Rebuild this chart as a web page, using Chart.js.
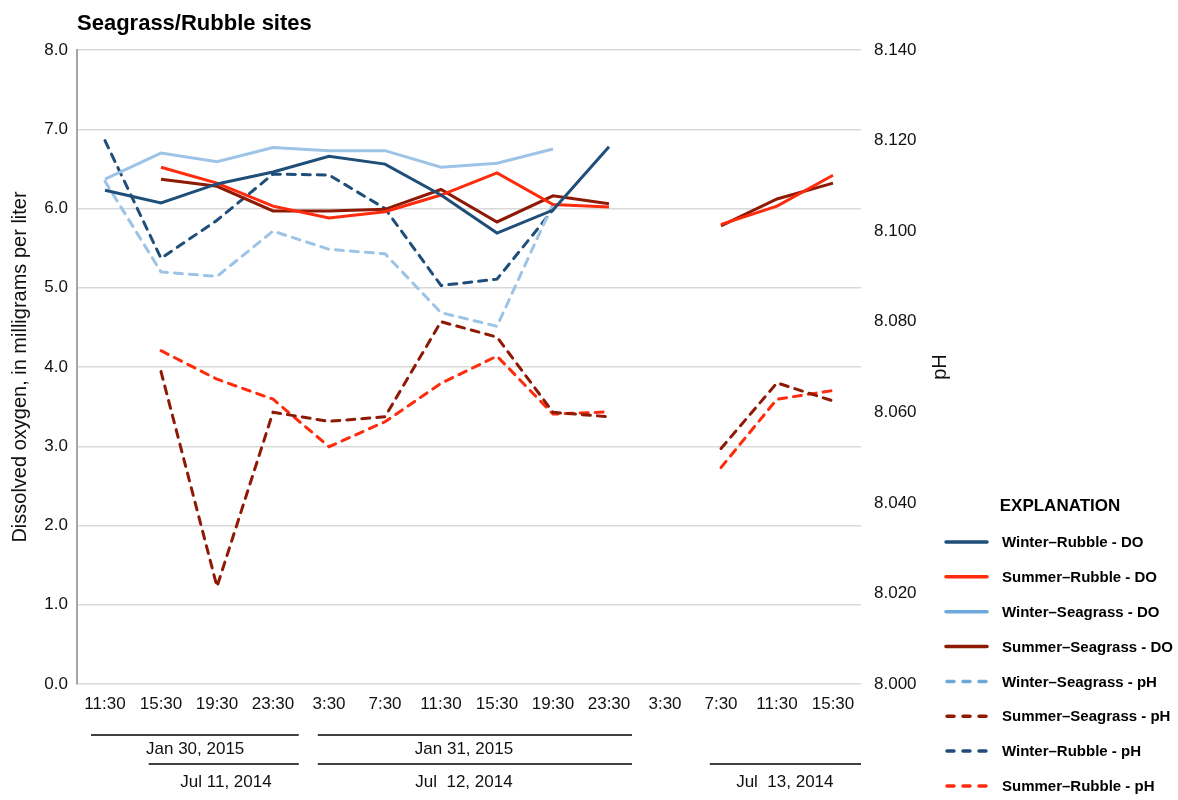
<!DOCTYPE html>
<html>
<head>
<meta charset="utf-8">
<script src="https://cdn.jsdelivr.net/npm/chart.js@4.4.1/dist/chart.umd.min.js"></script>
<style>
  html, body { margin: 0; padding: 0; background: #fff; }
  canvas { display: block; }
</style>
</head>
<body>
<canvas id="chart" width="1178" height="800"></canvas>
<script>
// ---- data ----
const chartTitle = 'Seagrass/Rubble sites';
const categories = ['11:30', '15:30', '19:30', '23:30', '3:30', '7:30', '11:30', '15:30', '19:30', '23:30', '3:30', '7:30', '11:30', '15:30'];

// dissolved oxygen, mg/L (left axis)
const winterRubbleDO    = [6.23, 6.07, 6.31, 6.46, 6.66, 6.56, 6.17, 5.69, 5.98, 6.78, null, null, null, null];
const summerRubbleDO    = [null, 6.52, 6.32, 6.03, 5.88, 5.96, 6.17, 6.45, 6.05, 6.02, null, 5.80, 6.03, 6.42];
const winterSeagrassDO  = [6.37, 6.70, 6.59, 6.77, 6.73, 6.73, 6.52, 6.57, 6.75, null, null, null, null, null];
const summerSeagrassDO  = [null, 6.37, 6.28, 5.97, 5.97, 5.99, 6.24, 5.83, 6.16, 6.06, null, 5.78, 6.12, 6.32];

// pH (right axis)
const winterSeagrassPH  = [8.111, 8.091, 8.090, 8.100, 8.096, 8.095, 8.082, 8.079, 8.106, null, null, null, null, null];
const summerSeagrassPH  = [null, 8.069, 8.0215, 8.060, 8.058, 8.059, 8.080, 8.0766, 8.060, 8.059, null, 8.052, 8.0665, 8.0625];
const winterRubblePH    = [8.120, 8.094, 8.1024, 8.1126, 8.1124, 8.105, 8.088, 8.0894, 8.1047, null, null, null, null, null];
const summerRubblePH    = [null, 8.0736, 8.0673, 8.0629, 8.0524, 8.0579, 8.0664, 8.0724, 8.0596, 8.0601, null, 8.0478, 8.0629, 8.0648];

// axis ranges
const doTicks = { min: 0, max: 8, step: 1 };
const phTicks = { min: 8.0, max: 8.14, step: 0.02 };

// sampling-day brackets under the time axis (positions in category units)
const dateGroupLabels  = ['Jan 30, 2015', 'Jan 31, 2015', 'Jul 11, 2014', 'Jul  12, 2014', 'Jul  13, 2014'];
const dateGroupRow     = [0, 0, 1, 1, 1];
const dateGroupFrom    = [-0.25, 3.8, 0.78, 3.8, 10.8];
const dateGroupTo      = [3.46, 9.41, 3.46, 9.41, 13.5];
const dateGroupLabelAt = [1.61, 6.41, 2.16, 6.41, 12.14];

// ---- styling ----
const FONT = '"Liberation Sans", Arial, Helvetica, sans-serif';
const C = {
  navy: '#1F4E79',
  red: '#FF2B0D',
  lightBlue: '#9DC3E6',
  keyBlue: '#6FA8DC',
  darkRed: '#8E1A06',
  grid: '#D9D9D9',
  axis: '#A6A6A6',
  text: '#111111'
};

Chart.defaults.font.family = FONT;
Chart.defaults.color = C.text;

function series(label, data, color, axis, dashed, keyColor) {
  return {
    label: label,
    data: data,
    yAxisID: axis,
    borderColor: color,
    backgroundColor: color,
    keyColor: keyColor || color,
    borderWidth: 3,
    borderDash: dashed ? [8, 7] : [],
    borderCapStyle: dashed ? 'round' : 'butt',
    pointRadius: 0,
    pointHoverRadius: 0,
    tension: 0,
    spanGaps: false,
    fill: false
  };
}

const datasets = [
  series('Winter\u2013Rubble - DO', winterRubbleDO, C.navy, 'y', false),
  series('Summer\u2013Rubble - DO', summerRubbleDO, C.red, 'y', false),
  series('Winter\u2013Seagrass - DO', winterSeagrassDO, C.lightBlue, 'y', false, C.keyBlue),
  series('Summer\u2013Seagrass - DO', summerSeagrassDO, C.darkRed, 'y', false),
  series('Winter\u2013Seagrass - pH', winterSeagrassPH, C.lightBlue, 'y1', true, C.keyBlue),
  series('Summer\u2013Seagrass - pH', summerSeagrassPH, C.darkRed, 'y1', true),
  series('Winter\u2013Rubble - pH', winterRubblePH, C.navy, 'y1', true),
  series('Summer\u2013Rubble - pH', summerRubblePH, C.red, 'y1', true)
];

// title, pH axis title, date brackets and the explanation box
const decorations = {
  id: 'decorations',
  afterDraw(chart) {
    const { ctx, chartArea, scales } = chart;
    const xs = scales.x;
    ctx.save();
    ctx.fillStyle = '#000';

    // chart title
    ctx.font = 'bold 22px ' + FONT;
    ctx.textAlign = 'left';
    ctx.textBaseline = 'alphabetic';
    ctx.fillText(chartTitle, chartArea.left, 30);

    // right axis title
    const yr = scales.y1;
    ctx.save();
    ctx.translate(yr.left + 79, (chartArea.top + chartArea.bottom) / 2);
    ctx.rotate(-Math.PI / 2);
    ctx.font = '20px ' + FONT;
    ctx.fillStyle = C.text;
    ctx.textAlign = 'center';
    ctx.textBaseline = 'middle';
    ctx.fillText('pH', 0, 0);
    ctx.restore();

    // date brackets
    const lineY = [chartArea.bottom + 51, chartArea.bottom + 80];
    const textY = [chartArea.bottom + 65, chartArea.bottom + 98];
    ctx.strokeStyle = '#000';
    ctx.lineWidth = 1.5;
    ctx.font = '17px ' + FONT;
    ctx.fillStyle = C.text;
    ctx.textAlign = 'center';
    ctx.textBaseline = 'middle';
    dateGroupLabels.forEach((lbl, i) => {
      const r = dateGroupRow[i];
      const x0 = xs.getPixelForValue(dateGroupFrom[i]);
      const x1 = xs.getPixelForValue(dateGroupTo[i]);
      ctx.beginPath();
      ctx.moveTo(x0, lineY[r]);
      ctx.lineTo(x1, lineY[r]);
      ctx.stroke();
      ctx.fillText(lbl, xs.getPixelForValue(dateGroupLabelAt[i]), textY[r]);
    });

    // explanation box
    const kx = chart.width - 233;
    ctx.font = 'bold 17px ' + FONT;
    ctx.fillStyle = '#000';
    ctx.textAlign = 'center';
    ctx.fillText('EXPLANATION', kx + 115, 506);
    ctx.font = 'bold 15px ' + FONT;
    ctx.textAlign = 'left';
    chart.data.datasets.forEach((ds, i) => {
      const y = 542 + i * 34.85;
      ctx.save();
      ctx.strokeStyle = ds.keyColor;
      ctx.lineWidth = 3.5;
      if (ds.borderDash.length) {
        ctx.setLineDash([7, 9]);
        ctx.lineCap = 'round';
        ctx.beginPath();
        ctx.moveTo(kx + 2, y);
        ctx.lineTo(kx + 42, y);
      } else {
        ctx.lineCap = 'round';
        ctx.beginPath();
        ctx.moveTo(kx + 1, y);
        ctx.lineTo(kx + 42, y);
      }
      ctx.stroke();
      ctx.restore();
      ctx.fillText(ds.label, kx + 57, y + 1);
    });
    ctx.restore();
  }
};

new Chart(document.getElementById('chart'), {
  type: 'line',
  data: { labels: categories, datasets: datasets },
  options: {
    responsive: false,
    animation: false,
    devicePixelRatio: 1,
    layout: { padding: { top: 50, left: 0, right: 217, bottom: 56 } },
    plugins: {
      legend: { display: false },
      title: { display: false },
      tooltip: { enabled: false }
    },
    scales: {
      x: {
        type: 'category',
        offset: true,
        grid: { display: false, drawTicks: false },
        border: { display: false },
        ticks: { autoSkip: false, maxRotation: 0, padding: 10, font: { size: 17 }, color: C.text },
        afterFit(s) { s.height = 60; }
      },
      y: {
        position: 'left',
        min: doTicks.min,
        max: doTicks.max,
        grid: { color: C.grid, lineWidth: 1.5, drawTicks: false },
        border: { display: true, color: C.axis, width: 2 },
        ticks: {
          stepSize: doTicks.step,
          padding: 9,
          font: { size: 17 },
          color: C.text,
          callback: v => Number(v).toFixed(1)
        },
        title: {
          display: true,
          text: 'Dissolved oxygen, in milligrams per liter',
          font: { size: 20 },
          color: C.text,
          padding: { top: 8, bottom: 0 }
        },
        afterFit(s) { s.width = 77; }
      },
      y1: {
        position: 'right',
        min: phTicks.min,
        max: phTicks.max,
        grid: { display: false, drawTicks: false },
        border: { display: false },
        ticks: {
          stepSize: phTicks.step,
          padding: 13,
          font: { size: 17 },
          color: C.text,
          callback: v => Number(v).toFixed(3)
        },
        afterFit(s) { s.width = 100; }
      }
    }
  },
  plugins: [decorations]
});
</script>
</body>
</html>
